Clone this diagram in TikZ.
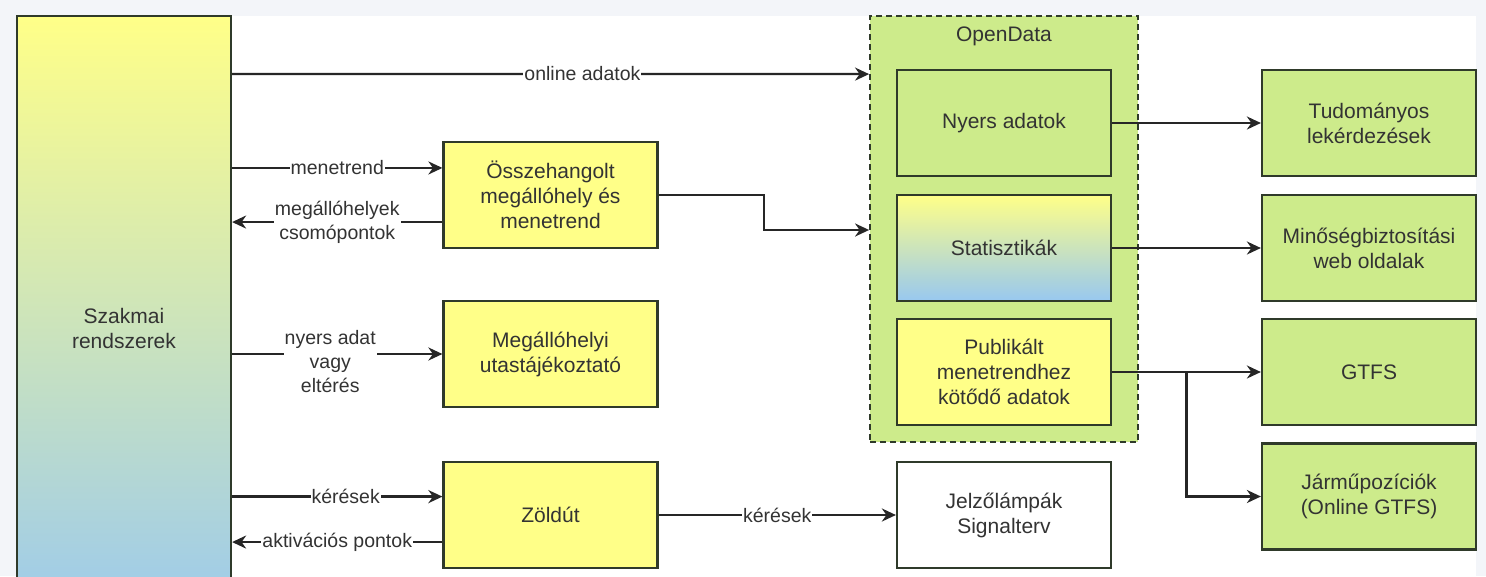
\documentclass[tikz,border=0pt]{standalone}
\usepackage{fontspec}
\setmainfont{Liberation Sans}
\usetikzlibrary{arrows.meta,calc}
\definecolor{ylw}{HTML}{FFFF88}
\definecolor{grn}{HTML}{CDEB8B}
\definecolor{blu}{HTML}{98C8F0}
\definecolor{strk}{HTML}{2F3A2A}
\definecolor{txt}{HTML}{333333}
\definecolor{bgc}{HTML}{F3F5F9}
\begin{document}
\begin{tikzpicture}[x=1pt,y=-1pt,
  box/.style={draw=strk, line width=2.2pt, minimum width=214pt, minimum height=106pt, align=center, text=txt, font=\fontsize{21}{25}\selectfont, inner sep=2pt},
  gbox/.style={box, fill=grn},
  ybox/.style={box, fill=ylw},
  wbox/.style={box, fill=white},
  grad/.style={box, top color=ylw, bottom color=blu},
  arr/.style={draw=black!85, line width=2.3pt, -{Stealth[length=14pt,width=13pt,inset=4.5pt]}},
  lbl/.style={fill=white, text=txt, font=\fontsize{19.5}{24}\selectfont, inner sep=1pt, align=center}]
\useasboundingbox (0,0) rectangle (1486,576);
\fill[bgc] (0,0) rectangle (1486,576);
\fill[white] (17,16) rectangle (1476,576);
\clip (0,0) rectangle (1486,576);

% left system
\node[grad, minimum height=624pt] (szak) at (124,328) {Szakmai\\rendszerek};

% middle column
\node[ybox] (oss) at (550.5,195) {Összehangolt\\megállóhely és\\menetrend};
\node[ybox] (meg) at (550.5,354) {Megállóhelyi\\utastájékoztató};
\node[ybox] (zold) at (550.5,515) {Zöldút};

% OpenData container
\node[draw=strk, dash pattern=on 6pt off 4pt, fill=grn, line width=1.8pt, minimum width=268pt, minimum height=426pt] (od) at (1004,229) {};
\node[text=txt, font=\fontsize{21}{25}\selectfont] (odl) at (1004,36) {OpenData};
\node[gbox] (nyers) at (1004,123) {Nyers adatok};
\node[grad] (stat) at (1004,248) {Statisztikák};
\node[ybox] (publ) at (1004,372) {Publikált\\menetrendhez\\kötődő adatok};
\node[wbox] (jelzo) at (1004,515) {Jelzőlámpák\\Signalterv};

% right column
\node[gbox] (tud) at (1369,123) {Tudományos\\lekérdezések};
\node[gbox] (minq) at (1369,248) {Minőségbiztosítási\\web oldalak};
\node[gbox] (gtfs) at (1369,372) {GTFS};
\node[gbox] (jarmu) at (1369,496.5) {Járműpozíciók\\(Online GTFS)};

% connectors
\draw[arr] ($(szak.north east)+(0,59)$) -- node[lbl,pos=0.55]{online adatok} ($(od.north west)+(0,59)$);

\coordinate (m1) at ($(oss.north west)!0.25!(oss.south west)$);
\draw[arr] (szak.east |- m1) -- node[lbl]{menetrend} (m1);
\coordinate (m2) at ($(oss.north west)!0.75!(oss.south west)$);
\draw[arr] (m2) -- node[lbl]{megállóhelyek\\csomópontok} (szak.east |- m2);

\draw[arr] (szak.east |- meg.west) -- node[lbl, xshift=-7pt, yshift=-8pt]{nyers adat\\vagy\\eltérés} (meg.west);

\coordinate (k1) at ($(zold.north west)!0.33!(zold.south west)$);
\draw[arr] (szak.east |- k1) -- node[lbl,pos=0.54]{kérések} (k1);
\coordinate (k2) at ($(zold.north west)!0.75!(zold.south west)$);
\draw[arr] (k2) -- node[lbl]{aktivációs pontok} (szak.east |- k2);

\draw[arr] (zold) -- node[lbl]{kérések} (jelzo);

\coordinate (b1) at (764,230);
\draw[arr] (oss.east) -| (b1) -- (od.west |- b1);

\draw[arr] (nyers) -- (tud);
\draw[arr] (stat) -- (minq);
\draw[arr] (publ) -- (gtfs);
\coordinate (j1) at ($(publ.east)!0.5!(gtfs.west)$);
\draw[arr] (j1) |- (jarmu.west);
\end{tikzpicture}
\end{document}
